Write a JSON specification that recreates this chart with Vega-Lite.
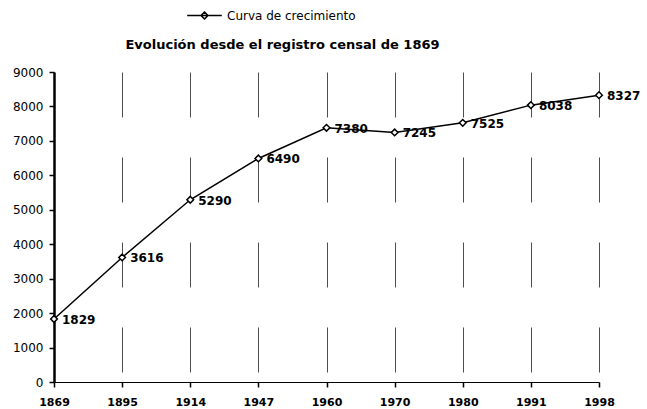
{
  "$schema": "https://vega.github.io/schema/vega-lite/v6.json",
  "width": 545,
  "height": 310,
  "autosize": {"type": "none"},
  "padding": {"left": 54, "top": 72, "right": 48, "bottom": 27},
  "background": "white",
  "config": {
    "view": {"stroke": null},
    "font": "DejaVu Sans"
  },
  "title": {
    "text": "Evolución desde el registro censal de 1869",
    "fontSize": 13,
    "fontWeight": "bold",
    "font": "DejaVu Sans",
    "color": "black",
    "offset": -55,
    "dx": -44
  },
  "data": {
    "values": [
      {"anio": "1869", "poblacion": 1829, "serie": "Curva de crecimiento"},
      {"anio": "1895", "poblacion": 3616, "serie": "Curva de crecimiento"},
      {"anio": "1914", "poblacion": 5290, "serie": "Curva de crecimiento"},
      {"anio": "1947", "poblacion": 6490, "serie": "Curva de crecimiento"},
      {"anio": "1960", "poblacion": 7380, "serie": "Curva de crecimiento"},
      {"anio": "1970", "poblacion": 7245, "serie": "Curva de crecimiento"},
      {"anio": "1980", "poblacion": 7525, "serie": "Curva de crecimiento"},
      {"anio": "1991", "poblacion": 8038, "serie": "Curva de crecimiento"},
      {"anio": "1998", "poblacion": 8327, "serie": "Curva de crecimiento"}
    ]
  },
  "encoding": {
    "x": {
      "field": "anio",
      "type": "ordinal",
      "sort": null,
      "scale": {"type": "point", "padding": 0},
      "axis": {
        "title": null,
        "labelAngle": 0,
        "labelFont": "DejaVu Sans",
        "labelFontSize": 11,
        "labelFontWeight": "bold",
        "labelColor": "black",
        "labelPadding": 9,
        "domainColor": "black",
        "domainWidth": 1.2,
        "tickColor": "black",
        "tickSize": 5,
        "tickOffset": 0,
        "tickWidth": 1.5,
        "grid": true,
        "gridColor": "#222",
        "gridWidth": 1,
        "gridDash": [45, 40],
        "gridOpacity": 0.8
      }
    },
    "y": {
      "field": "poblacion",
      "type": "quantitative",
      "scale": {"domain": [0, 9000], "nice": false},
      "axis": {
        "title": null,
        "values": [0, 1000, 2000, 3000, 4000, 5000, 6000, 7000, 8000, 9000],
        "format": "d",
        "labelFont": "DejaVu Sans",
        "labelFontSize": 12,
        "labelColor": "black",
        "labelPadding": 6,
        "domainColor": "black",
        "domainWidth": 2.5,
        "tickColor": "black",
        "tickSize": 5,
        "tickWidth": 1.5,
        "grid": false
      }
    }
  },
  "layer": [
    {
      "mark": {"type": "line", "strokeWidth": 1.5},
      "encoding": {
        "color": {
          "field": "serie",
          "type": "nominal",
          "scale": {"range": ["black"]},
          "legend": {
            "title": null,
            "orient": "none",
            "legendX": 132,
            "legendY": -75,
            "symbolType": "M-1,0L1,0M-0.2,0L0,-0.2L0.2,0L0,0.2Z",
            "symbolSize": 1200,
            "symbolStrokeWidth": 1.5,
            "symbolStrokeColor": "black",
            "symbolFillColor": "white",
            "labelFont": "DejaVu Sans",
            "labelFontSize": 12,
            "labelColor": "black",
            "labelOffset": 4
          }
        }
      }
    },
    {
      "mark": {"type": "point", "shape": "diamond", "filled": true, "fill": "white", "stroke": "black", "strokeWidth": 1.5, "size": 45, "opacity": 1}
    },
    {
      "mark": {"type": "text", "align": "left", "baseline": "middle", "dx": 8, "dy": 1, "fontSize": 12, "fontWeight": "bold", "font": "DejaVu Sans", "color": "black"},
      "encoding": {"text": {"field": "poblacion", "type": "quantitative", "format": "d"}}
    }
  ]
}
